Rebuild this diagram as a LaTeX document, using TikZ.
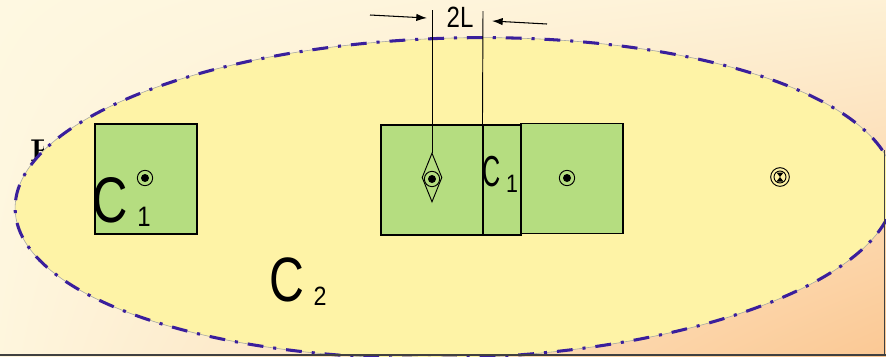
\documentclass[tikz,border=0pt]{standalone}
\usepackage{fontspec}
\setsansfont{Liberation Sans}
\usepackage{graphicx}
\usetikzlibrary{arrows.meta, shapes.geometric, shadings}
\definecolor{Cream}{HTML}{FEF8E1}
\definecolor{Peach}{HTML}{FBC894}
\definecolor{Lemon}{HTML}{FEF3A6}
\definecolor{Leaf} {HTML}{B5DD80}
\definecolor{Ink}  {HTML}{3A1F9C}
\tikzset{
  cell/.style={draw, fill=Leaf, line width=0.9pt, minimum width=3.06cm,
               minimum height=3.3cm, inner sep=0pt},
  tgt/.style={circle, draw, line width=0.8pt, minimum size=0.46cm, inner sep=0pt,
              path picture={\fill (path picture bounding box.center) circle (0.12cm);}},
  lbl/.style={inner sep=0pt, font=\sffamily},
  arr/.style={-{Latex[length=3.2mm,width=2.2mm]}, line width=0.9pt},
  wire/.style={line width=0.8pt}
}

\begin{document}
\begin{tikzpicture}[x=0.03cm, y=-0.03cm]
  \useasboundingbox (0,0) rectangle (886,356);
  \begin{scope}
  \clip (0,0) rectangle (886,356);
  % backdrop
  \shade[upper left=Cream, upper right=Cream!85!Peach, lower left=Cream!95!Peach,
         lower right=Peach] (0,0) rectangle (886,356);
  \begin{scope}
    \clip (25,135) rectangle (43,170);
    \node[anchor=north west, inner sep=0pt, font=\rmfamily\bfseries\fontsize{27}{27}\selectfont] (stray) at (30,140) {F};
  \end{scope}
  % region C2
  \fill[Lemon, rotate around={1.5:(455,198)}] (455,198) ellipse [x radius=13.2cm, y radius=4.8cm];
  \draw[gray!70, line width=0.5pt, rotate around={1.5:(455,198)}] (455,198) ellipse [x radius=13.2cm, y radius=4.8cm];
  \draw[Ink, line width=2.6pt, dash pattern=on 13.5pt off 8.5pt on 2.6pt off 8.5pt,
        rotate around={1.5:(455,198)}] (455,198) ellipse [x radius=13.2cm, y radius=4.8cm];
  \end{scope}

  % C1 blocks
  \node[cell] (boxl) at (146,179) {};
  \node[cell] (boxm) at (432,180) {};
  \node[cell, minimum width=1.14cm] (slab) at (502,180) {};
  \node[cell] (boxr) at (572,178.5) {};

  % sources
  \node[diamond, draw, line width=0.8pt, minimum width=0.6cm, minimum height=1.47cm, inner sep=0pt] (kite) at (432,177.5) {};
  \node[tgt] (tl) at (145,178) {};
  \node[tgt] (tm) at (432,179) {};
  \node[tgt] (tr) at (567,178) {};
  \node[circle, draw, line width=0.8pt, minimum size=0.56cm, inner sep=0pt] (probe) at (780,177) {};
  \node[circle, draw, line width=0.8pt, minimum size=0.36cm, inner sep=0pt] (probein) at (probe) {};
  \fill (probe.center) -- ++(-3.5,-4.5) -- ++(7,0) -- cycle;
  \fill (probe.center) -- ++(-3.5,4.5) -- ++(7,0) -- cycle;

  % gap 2L
  \coordinate (ltop) at (432,10);
  \coordinate (rtop) at (483,11);
  \draw[wire] (ltop) -- (kite.north);
  \draw[wire] (rtop) -- (slab.north west);
  \coordinate (la) at (370,15);  \coordinate (lb) at (427,18);
  \coordinate (ra) at (547,24);  \coordinate (rb) at (492,21);
  \draw[arr] (la) -- (lb);
  \draw[arr] (ra) -- (rb);
  \node[lbl] (gap) at (460,17.5) {\scalebox{0.82}[1]{\fontsize{25}{25}\selectfont 2L}};

  % labels
  \node[lbl] (cl)  at (110,200) {\scalebox{0.76}[1]{\fontsize{55}{55}\selectfont C}};
  \node[lbl] (cls) at (144,217) {\scalebox{0.85}[1]{\fontsize{24}{24}\selectfont 1}};
  \node[lbl] (cm)  at (492,172) {\scalebox{0.58}[1]{\fontsize{37}{37}\selectfont C}};
  \node[lbl] (cms) at (512,184) {\scalebox{0.85}[1]{\fontsize{21.5}{21.5}\selectfont 1}};
  \node[lbl] (co)  at (287,280) {\scalebox{0.77}[1]{\fontsize{53.5}{53.5}\selectfont C}};
  \node[lbl] (cos) at (320,296) {\scalebox{0.88}[1]{\fontsize{22.6}{22.6}\selectfont 2}};

  % frame edges
  \draw[black!75, line width=1.3pt] (884.5,150) -- (884.5,356);
  \draw[black!75, line width=1.6pt] (0,355) -- (886,355);
\end{tikzpicture}
\end{document}
